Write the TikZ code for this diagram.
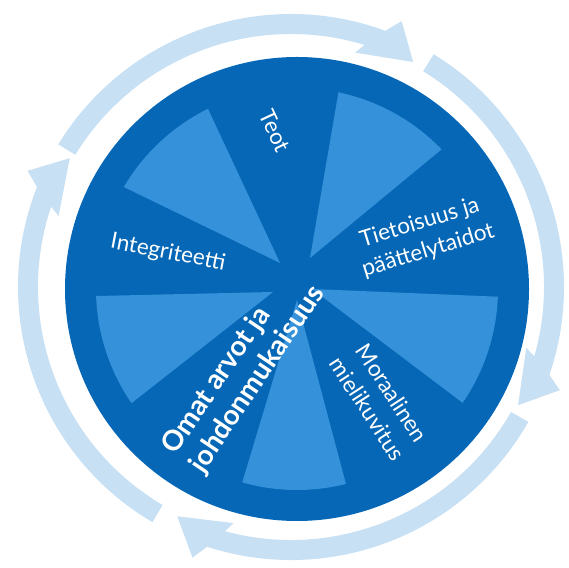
\documentclass[tikz,border=0pt]{standalone}
\usepackage{fontspec}
\setmainfont{Lato}
\usetikzlibrary{calc}
\tikzset{%
  lbl/.style={text=white,inner sep=0pt,align=center,font=\fontsize{#1}{29}\selectfont},
  lbl/.default=22.5
}
\definecolor{c0}{HTML}{0567B6}
\definecolor{c1}{HTML}{3592DA}
\definecolor{c2}{HTML}{C8E0F4}

\begin{document}
\begin{tikzpicture}[x=1pt,y=1pt]
  \useasboundingbox (0,0) rectangle (569,567);
  \coordinate (o) at (291,280);
  \coordinate (c) at (297,278);
  % ring of arrows
  \fill[c2,shift={(o)}] (148.5:273) arc[start angle=148.5,end angle=69.8,radius=273]
    -- (67.4:288) -- (61.5:256) -- (74.7:243) -- (73.1:253)
    arc[start angle=73.1,end angle=148.5,radius=253] -- cycle;
  \fill[c2,shift={(o)}] (58.5:273) arc[start angle=58.5,end angle=-18.8,radius=273]
    -- (-21:288) -- (-27.5:256) -- (-14.5:243) -- (-15.9:253)
    arc[start angle=-15.9,end angle=58.5,radius=253] -- cycle;
  \fill[c2,shift={(o)}] (-29.6:273) arc[start angle=-29.6,end angle=-107.9,radius=273]
    -- (-110:288) -- (-116.4:256) -- (-103.7:243) -- (-105.1:253)
    arc[start angle=-105.1,end angle=-29.6,radius=253] -- cycle;
  \fill[c2,shift={(o)}] (-120.5:273) arc[start angle=-120.5,end angle=-201.5,radius=273]
    -- (-203.8:288) -- (-210.2:256) -- (-197:243) -- (-198.5:253)
    arc[start angle=-198.5,end angle=-120.5,radius=253] -- cycle;
  % disc
  \fill[c0] (c) circle[radius=232];
  \coordinate (p0) at (280,304);
  \coordinate (p1) at (310,309);
  \coordinate (p2) at (312,278);
  \coordinate (p3) at (297,267);
  \coordinate (p4) at (273,275);
  \fill[c1] (p0) -- ($(c)+(116.3:201)$) arc[start angle=116.3,end angle=149.5,radius=201] -- cycle;
  \fill[c1] (p1) -- ($(c)+(44:201)$) arc[start angle=44,end angle=78.1,radius=201] -- cycle;
  \fill[c1] (p2) -- ($(c)+(-34.5:201)$) arc[start angle=-34.5,end angle=-2.2,radius=201] -- cycle;
  \fill[c1] (p3) -- ($(c)+(-105.8:201)$) arc[start angle=-105.8,end angle=-75.9,radius=201] -- cycle;
  \fill[c1] (p4) -- ($(c)+(182:201)$) arc[start angle=182,end angle=214.6,radius=201] -- cycle;
  %%%
  \node[lbl,rotate=-65] (t0) at (275,436) {Teot};
  \node[lbl,rotate=-11] (t1) at (168,314) {Integriteetti};
  \node[lbl,rotate=17] (t2) at (424,330) {Tietoisuus ja\\päättelytaidot};
  \node[lbl,rotate=-57] (t3) at (380,166) {Moraalinen\\mielikuvitus};
  \node[lbl,rotate=56,align=left,font=\bfseries\fontsize{28}{33}\selectfont] (t4) at (244,197) {Omat arvot ja\\johdonmukaisuus};
\end{tikzpicture}
\end{document}
